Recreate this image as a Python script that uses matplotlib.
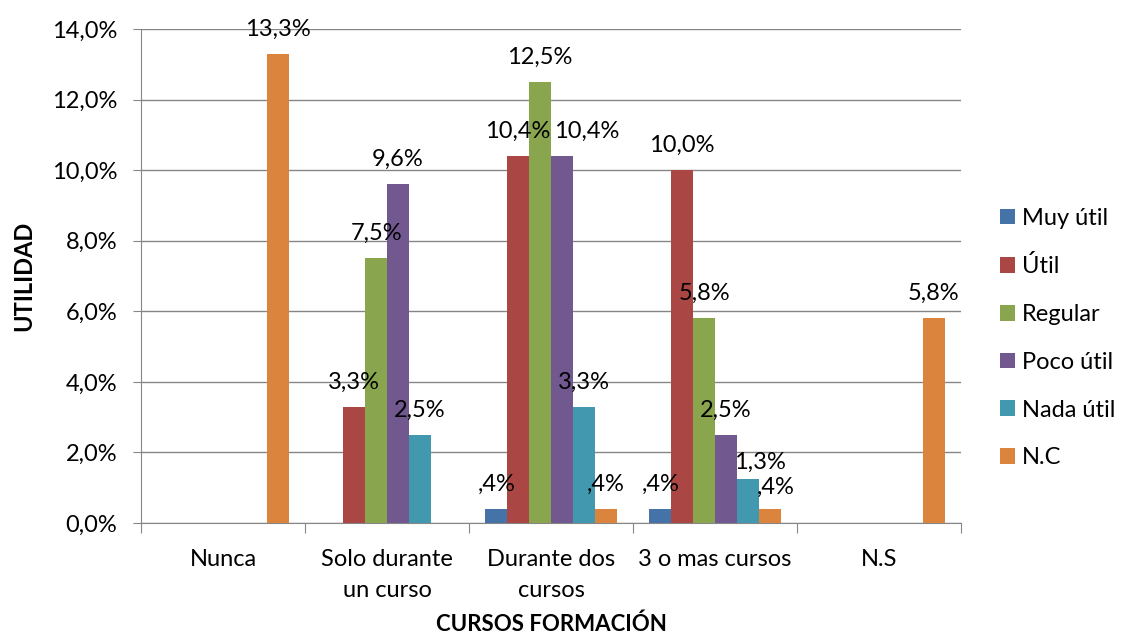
import matplotlib.pyplot as plt
import numpy as np

plt.rcParams["font.family"] = ["Lato", "DejaVu Sans"]

# datos
categorias = ["Nunca", "Solo durante\nun curso", "Durante dos\ncursos", "3 o mas cursos", "N.S"]
series = ["Muy útil", "Útil", "Regular", "Poco útil", "Nada útil", "N.C"]
muy_util = [0, 0, 0.4, 0.4, 0]
util = [0, 3.3, 10.4, 10.0, 0]
regular = [0, 7.5, 12.5, 5.8, 0]
poco_util = [0, 9.6, 10.4, 2.5, 0]
nada_util = [0, 2.5, 3.3, 1.25, 0]
nc = [13.3, 0, 0.4, 0.4, 5.8]
colores = ["#4572A7", "#AA4643", "#89A54E", "#71588F", "#4198AF", "#DB843D"]

valores = [muy_util, util, regular, poco_util, nada_util, nc]

# etiquetas movidas a mano en el original (serie, categoria) -> (dx, dy) en pt
ajustes = {(3, 2): (18, 0), (4, 3): (9, -6), (5, 3): (4, -2)}

def etiqueta(v):
    s = f"{v + 1e-9:.1f}".replace(".", ",")
    if s.startswith("0"):
        s = s[1:]
    return s + "%"

fs = 17
fig = plt.figure(figsize=(11.22, 6.39), dpi=100)
ax = fig.add_axes([141 / 1122, 1 - 523 / 639, 820 / 1122, 494 / 639])

x = np.arange(len(categorias))
ancho = 1 / 7.5
for i, (nombre, vals, col) in enumerate(zip(series, valores, colores)):
    pos = x + (i - 2.5) * ancho
    ax.bar(pos, vals, width=ancho, color=col, label=nombre, zorder=3)
    for j, (p, v) in enumerate(zip(pos, vals)):
        if v > 0:
            dx, dy = ajustes.get((i, j), (0, 0))
            ax.annotate(etiqueta(v), (p, v), xytext=(dx, 13 + dy), textcoords="offset points",
                        ha="center", va="baseline", fontsize=fs, zorder=4)

ax.set_xlim(-0.5, len(categorias) - 0.5)
ax.set_ylim(0, 14)
ax.set_yticks(np.arange(0, 15, 2))
ax.set_yticklabels([f"{t:.1f}%".replace(".", ",") for t in np.arange(0, 15, 2)], fontsize=fs)
ax.yaxis.grid(True, color="#868686", linewidth=1, zorder=0)

ax.set_xticks(np.arange(-0.5, len(categorias), 1))
ax.set_xticklabels([])
ax.set_xticks(x, minor=True)
ax.set_xticklabels(categorias, minor=True, fontsize=fs, linespacing=1.55, va="top")
ax.tick_params(axis="x", which="minor", length=0, pad=19)
ax.tick_params(axis="x", which="major", length=7, color="#868686")
ax.tick_params(axis="y", length=6, color="#868686", pad=11)

for s in ["top", "right"]:
    ax.spines[s].set_visible(False)
for s in ["left", "bottom"]:
    ax.spines[s].set_color("#868686")

ax.set_ylabel("UTILIDAD", fontsize=fs, fontweight="bold", labelpad=12)
ax.set_xlabel("CURSOS FORMACIÓN", fontsize=16, fontweight="bold", labelpad=9)

fig.legend(loc="center left", bbox_to_anchor=(1000 / 1122, 1 - 338 / 639), frameon=False,
           fontsize=fs, handlelength=0.64, handleheight=0.64, handletextpad=0.3,
           labelspacing=1.13, borderaxespad=0, borderpad=0)

fig.savefig("out.png", dpi=100)
